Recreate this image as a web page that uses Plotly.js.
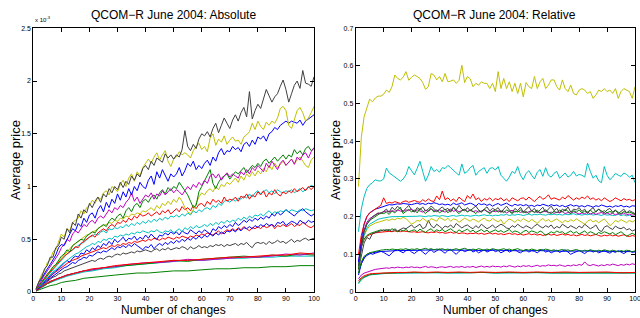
<!DOCTYPE html>
<html><head><meta charset="utf-8">
<script src="https://cdn.plot.ly/plotly-3.0.1.min.js"></script>
<style>html,body{margin:0;padding:0;background:#fff}#chart{width:640px;height:318px}</style>
</head><body><div id="chart"></div><script>
// x = number of changes (1..100) and a sparse grid for the smooth series
var xFull = [];
for (var i = 1; i <= 100; i++) xFull.push(i);
var xSparse = [1,2,3,4,5,6,8,10,12,15,18,21,25,29,33,37,41,45,50,55,60,65,70,75,80,85,90,95,100];

// ---- Left panel: absolute average price (units of 1e-3) ----
var absBlack1 = [0.03,0.1,0.14,0.22,0.25,0.33,0.33,0.42,0.44,0.52, 0.5,0.6,0.56,0.66,0.63,0.74,0.7,0.78,0.75,0.84, 0.8,0.86,0.9,0.85,0.93,0.9,0.98,0.94,1.0,0.97, 1.04,0.99,1.05,1.02,1.1,1.06,1.12,1.09,1.17,1.2, 1.16,1.24,1.2,1.27,1.25,1.23,1.31,1.27,1.3,1.26, 1.3,1.28,1.35,1.53,1.38,1.34,1.4,1.36,1.45,1.5, 1.48,1.52,1.47,1.55,1.6,1.51,1.58,1.65,1.6,1.55, 1.63,1.68,1.62,1.7,1.75,1.66,1.9,1.64,1.72,1.78, 1.74,1.82,1.92,1.86,1.8,1.85,1.88,1.95,2.01,1.92, 1.8,1.88,1.96,2.0,1.93,2.1,1.98,1.97,1.95,2.04];
var absYellow1 = [0.03,0.11,0.17,0.2,0.28,0.3,0.38,0.4,0.48,0.55, 0.52,0.6,0.58,0.66,0.68,0.7,0.77,0.74,0.8,0.82, 0.87,0.84,0.9,0.88,0.94,0.96,0.92,1.0,0.98,0.95, 1.02,1.06,1.0,1.08,1.12,1.05,1.14,1.1,1.18,1.22, 1.26,1.22,1.28,1.32,1.25,1.3,1.34,1.24,1.19,1.26, 1.28,1.33,1.3,1.32,1.3,1.27,1.34,1.38,1.41,1.35, 1.38,1.33,1.46,1.5,1.39,1.45,1.42,1.48,1.4,1.44, 1.47,1.43,1.44,1.4,1.47,1.49,1.52,1.6,1.54,1.62, 1.57,1.54,1.61,1.58,1.62,1.6,1.65,1.74,1.76,1.72, 1.58,1.55,1.63,1.72,1.75,1.7,1.62,1.65,1.7,1.76];
var absBlue1 = [0.03,0.09,0.13,0.18,0.22,0.26,0.31,0.35,0.42,0.45, 0.44,0.5,0.55,0.6,0.58,0.65,0.62,0.7,0.66,0.73, 0.75,0.7,0.78,0.82,0.76,0.85,0.8,0.88,0.84,0.93, 0.87,0.95,0.9,0.98,0.92,1.0,0.96,1.04,1.0,0.98, 1.06,1.1,1.02,1.14,1.08,1.16,1.1,1.05,1.12,1.09, 1.12,1.18,1.1,1.15,1.22,1.19,1.24,1.16,1.2,1.17, 1.22,1.25,1.2,1.28,1.24,1.32,1.36,1.3,1.34,1.33, 1.38,1.35,1.37,1.33,1.4,1.42,1.38,1.44,1.4,1.47, 1.45,1.48,1.43,1.5,1.52,1.56,1.54,1.58,1.6,1.62, 1.6,1.62,1.61,1.6,1.63,1.58,1.62,1.64,1.66,1.68];
var absGreen1 = [0.02,0.06,0.1,0.13,0.17,0.2,0.24,0.26,0.3,0.34, 0.36,0.4,0.38,0.44,0.46,0.48,0.5,0.49,0.53,0.55, 0.57,0.56,0.6,0.62,0.64,0.62,0.67,0.7,0.68,0.72, 0.74,0.7,0.77,0.8,0.76,0.82,0.84,0.8,0.86,0.88, 0.85,0.9,0.92,0.88,0.94,0.97,0.93,0.99,0.96,1.0, 0.98,1.04,1.0,0.95,0.92,0.86,0.8,0.82,0.95,1.0, 1.05,1.1,1.16,1.03,0.98,1.04,1.08,1.1,1.12,1.07, 1.1,1.14,1.12,1.15,1.18,1.13,1.17,1.2,1.18,1.22, 1.19,1.24,1.26,1.22,1.25,1.28,1.24,1.27,1.3,1.26, 1.3,1.28,1.35,1.31,1.34,1.3,1.36,1.38,1.34,1.36];
var absMagenta1 = [0.02,0.07,0.12,0.16,0.2,0.24,0.28,0.32,0.36,0.42, 0.45,0.5,0.48,0.55,0.58,0.56,0.6,0.64,0.62,0.66, 0.68,0.65,0.7,0.72,0.7,0.74,0.78,0.75,0.8,0.78, 0.82,0.8,0.85,0.88,0.94,0.86,0.9,0.84,0.88,0.92, 0.9,0.94,0.88,0.93,0.91,0.96,0.92,0.95,0.98,0.94, 0.97,0.95,0.92,0.96,1.0,0.97,1.02,0.99,1.04,1.01, 1.06,1.03,1.1,1.12,1.08,1.12,1.06,1.1,1.13,1.09, 1.12,1.1,1.08,1.14,1.11,1.16,1.12,1.18,1.15,1.2, 1.17,1.14,1.22,1.18,1.24,1.2,1.16,1.22,1.25,1.2, 1.23,1.26,1.21,1.28,1.25,1.3,1.32,1.27,1.33,1.37];
var absYellow2 = [0.02,0.06,0.1,0.14,0.17,0.2,0.23,0.27,0.3,0.33, 0.36,0.39,0.42,0.44,0.46,0.48,0.5,0.52,0.54,0.55, 0.57,0.58,0.6,0.62,0.63,0.64,0.66,0.65,0.68,0.67, 0.7,0.69,0.72,0.71,0.74,0.73,0.75,0.74,0.77,0.76, 0.78,0.8,0.77,0.82,0.79,0.84,0.82,0.86,0.83,0.88, 0.85,0.9,0.86,0.8,0.76,0.74,0.78,0.84,0.9,0.94, 0.92,0.96,0.98,0.95,1.0,0.97,1.02,1.0,1.04,1.02, 1.05,1.08,1.04,1.1,1.06,1.12,1.09,1.14,1.1,1.15, 1.12,1.17,1.14,1.2,1.16,1.22,1.18,1.21,1.24,1.2, 1.23,1.26,1.22,1.25,1.28,1.24,1.2,1.18,1.25,1.28];
var absRed1 = [0.02,0.06,0.09,0.12,0.16,0.19,0.22,0.25,0.28,0.32, 0.34,0.36,0.38,0.4,0.43,0.42,0.46,0.48,0.5,0.52, 0.54,0.52,0.56,0.58,0.6,0.58,0.62,0.64,0.62,0.66, 0.65,0.68,0.66,0.7,0.68,0.72,0.7,0.74,0.72,0.73, 0.75,0.72,0.74,0.76,0.73,0.77,0.75,0.78,0.74,0.77, 0.79,0.76,0.81,0.78,0.8,0.77,0.82,0.79,0.83,0.84, 0.81,0.86,0.83,0.88,0.85,0.87,0.84,0.9,0.86,0.88, 0.87,0.9,0.86,0.91,0.89,0.93,0.88,0.92,0.9,0.95, 0.92,0.96,0.9,0.94,0.92,0.97,0.93,0.91,0.95,0.93, 0.96,0.94,0.98,0.95,0.97,0.99,0.96,1.0,0.97,1.0];
var absCyan1 = [0.02,0.06,0.09,0.12,0.15,0.18,0.22,0.25,0.28,0.31, 0.33,0.36,0.38,0.4,0.42,0.44,0.46,0.47,0.5,0.52, 0.53,0.55,0.54,0.57,0.58,0.56,0.6,0.59,0.61,0.6, 0.62,0.61,0.64,0.62,0.65,0.63,0.66,0.64,0.67,0.65, 0.68,0.66,0.69,0.67,0.7,0.68,0.71,0.69,0.72,0.71, 0.73,0.71,0.74,0.72,0.75,0.73,0.77,0.75,0.78,0.76, 0.79,0.8,0.78,0.82,0.8,0.84,0.82,0.86,0.87,0.85, 0.88,0.86,0.89,0.88,0.91,0.89,0.93,0.9,0.94,0.96, 0.93,0.95,0.97,0.94,0.96,0.93,0.97,0.95,0.94,0.96, 0.95,0.97,0.94,0.96,0.98,0.95,0.97,0.99,1.01,1.0];
var absCyan2 = [0.02,0.05,0.08,0.11,0.14,0.16,0.19,0.21,0.24,0.26, 0.28,0.3,0.32,0.34,0.36,0.37,0.39,0.41,0.43,0.44, 0.46,0.45,0.48,0.47,0.5,0.49,0.51,0.5,0.53,0.52, 0.54,0.53,0.55,0.54,0.56,0.55,0.57,0.56,0.58,0.57, 0.56,0.58,0.57,0.59,0.57,0.56,0.58,0.57,0.59,0.56, 0.58,0.6,0.57,0.61,0.59,0.62,0.6,0.63,0.61,0.62, 0.64,0.62,0.65,0.63,0.66,0.64,0.67,0.65,0.68,0.66, 0.68,0.67,0.7,0.68,0.71,0.69,0.72,0.7,0.73,0.72, 0.74,0.72,0.75,0.77,0.74,0.76,0.75,0.77,0.76,0.78, 0.76,0.78,0.77,0.76,0.78,0.77,0.79,0.78,0.77,0.78];
var absBlue2 = [0.02,0.05,0.08,0.1,0.13,0.15,0.18,0.2,0.22,0.25, 0.27,0.3,0.28,0.32,0.34,0.33,0.37,0.36,0.4,0.38, 0.42,0.4,0.44,0.42,0.46,0.44,0.48,0.45,0.5,0.47, 0.49,0.52,0.48,0.51,0.5,0.53,0.49,0.52,0.5,0.54, 0.51,0.55,0.52,0.5,0.54,0.53,0.56,0.54,0.57,0.55, 0.57,0.54,0.58,0.56,0.55,0.59,0.57,0.55,0.58,0.56, 0.59,0.57,0.55,0.6,0.58,0.62,0.6,0.63,0.61,0.64, 0.62,0.66,0.63,0.65,0.68,0.66,0.69,0.67,0.7,0.68, 0.71,0.69,0.72,0.7,0.74,0.72,0.76,0.73,0.75,0.78, 0.76,0.74,0.72,0.75,0.77,0.79,0.76,0.74,0.72,0.74];
var absBlue3 = [0.02,0.04,0.07,0.09,0.11,0.13,0.15,0.17,0.19,0.21, 0.23,0.24,0.26,0.28,0.27,0.3,0.31,0.33,0.32,0.35, 0.34,0.36,0.38,0.37,0.39,0.38,0.4,0.42,0.4,0.43, 0.42,0.44,0.42,0.45,0.43,0.46,0.44,0.42,0.4,0.43, 0.42,0.45,0.41,0.44,0.46,0.44,0.47,0.45,0.48,0.46, 0.49,0.47,0.5,0.48,0.51,0.49,0.52,0.5,0.53,0.51, 0.54,0.52,0.55,0.53,0.56,0.54,0.57,0.55,0.58,0.57, 0.59,0.57,0.6,0.58,0.61,0.6,0.62,0.6,0.63,0.61, 0.64,0.62,0.65,0.63,0.64,0.62,0.66,0.65,0.67,0.63, 0.65,0.67,0.66,0.64,0.68,0.66,0.65,0.68,0.66,0.67];
var absRed2 = [0.02,0.05,0.07,0.1,0.12,0.14,0.17,0.19,0.21,0.23, 0.25,0.27,0.29,0.3,0.31,0.32,0.34,0.35,0.36,0.37, 0.38,0.39,0.4,0.41,0.42,0.41,0.43,0.44,0.43,0.45, 0.44,0.46,0.45,0.47,0.46,0.48,0.47,0.48,0.49,0.48, 0.5,0.49,0.51,0.5,0.49,0.51,0.5,0.52,0.51,0.5, 0.52,0.51,0.53,0.52,0.51,0.53,0.52,0.54,0.53,0.55, 0.54,0.56,0.55,0.54,0.56,0.58,0.55,0.57,0.59,0.58, 0.6,0.58,0.61,0.59,0.62,0.6,0.58,0.61,0.6,0.62, 0.6,0.63,0.61,0.62,0.64,0.6,0.63,0.62,0.64,0.62, 0.63,0.65,0.62,0.64,0.63,0.66,0.64,0.62,0.61,0.63];
var absBlack2 = [0.01,0.04,0.06,0.08,0.1,0.12,0.14,0.15,0.17,0.18, 0.2,0.21,0.22,0.23,0.24,0.25,0.26,0.27,0.28,0.29, 0.3,0.29,0.31,0.32,0.31,0.33,0.34,0.33,0.35,0.36, 0.35,0.37,0.36,0.37,0.38,0.37,0.39,0.38,0.39,0.4, 0.39,0.38,0.4,0.41,0.39,0.41,0.4,0.42,0.4,0.41, 0.42,0.41,0.43,0.42,0.4,0.43,0.41,0.42,0.44,0.42, 0.43,0.42,0.44,0.43,0.45,0.44,0.45,0.43,0.45,0.44, 0.45,0.46,0.44,0.46,0.45,0.47,0.44,0.42,0.46,0.47, 0.46,0.47,0.45,0.48,0.46,0.47,0.49,0.47,0.48,0.46, 0.48,0.5,0.47,0.49,0.48,0.5,0.51,0.49,0.5,0.51];
var absRed3 = [0.01,0.03,0.05,0.07,0.08,0.1,0.12,0.14,0.16,0.18, 0.2,0.22,0.23,0.25,0.26,0.27,0.28,0.29,0.3,0.3, 0.31,0.32,0.33,0.33,0.34,0.35,0.35,0.37,0.36];
var absMagenta3 = [0.01,0.03,0.05,0.07,0.09,0.1,0.12,0.14,0.16,0.18, 0.2,0.21,0.23,0.24,0.26,0.27,0.28,0.28,0.29,0.31, 0.3,0.31,0.32,0.33,0.33,0.34,0.36,0.35,0.37];
var absGreen3 = [0.01,0.03,0.05,0.06,0.08,0.09,0.12,0.14,0.16,0.18, 0.2,0.21,0.23,0.24,0.25,0.26,0.27,0.28,0.3,0.29, 0.31,0.32,0.33,0.34,0.33,0.35,0.34,0.36,0.35];
var absCyan3 = [0.01,0.03,0.04,0.06,0.08,0.09,0.11,0.13,0.15,0.17, 0.19,0.2,0.22,0.23,0.25,0.26,0.27,0.28,0.29,0.3, 0.3,0.31,0.32,0.32,0.33,0.33,0.34,0.34,0.34];
var absGreen4 = [0.01,0.02,0.03,0.04,0.05,0.06,0.07,0.09,0.1,0.11, 0.13,0.14,0.15,0.16,0.17,0.18,0.18,0.19,0.2,0.2, 0.21,0.22,0.22,0.23,0.23,0.24,0.24,0.25,0.25];

// ---- Right panel: relative average price ----
var relYellow1 = [.28,.41,.465,.49,.512,.505,.515,.52,.52,.525, .536,.53,.545,.576,.567,.563,.57,.585,.562,.57, .576,.572,.567,.556,.538,.545,.58,.576,.563,.572, .558,.58,.558,.56,.563,.554,.562,.602,.556,.572, .566,.545,.554,.549,.558,.554,.554,.54,.554,.532, .585,.54,.567,.54,.558,.532,.554,.527,.554,.518, .556,.545,.54,.572,.54,.558,.567,.54,.549,.563, .563,.545,.536,.563,.54,.532,.549,.527,.523,.536, .54,.536,.527,.532,.514,.523,.536,.532,.54,.532, .536,.527,.54,.514,.532,.54,.536,.532,.514,.545];
var relCyan1 = [.16,.22,.253,.275,.285,.29,.298,.295,.295,.3, .329,.316,.311,.305,.298,.294,.3,.311,.333,.32, .311,.328,.347,.32,.294,.31,.333,.32,.325,.318, .33,.328,.336,.33,.322,.316,.31,.34,.315,.32, .33,.336,.31,.32,.325,.33,.315,.328,.33,.324, .333,.31,.302,.294,.305,.32,.315,.333,.31,.298, .315,.322,.31,.3,.318,.325,.307,.33,.31,.305, .315,.32,.302,.31,.316,.305,.31,.32,.308,.312, .31,.305,.342,.32,.302,.31,.295,.29,.333,.31, .298,.305,.315,.31,.307,.316,.312,.305,.31,.29];
var relRed1 = [.1,.15,.18,.2,.21,.215,.22,.225,.23,.25, .235,.238,.236,.24,.237,.235,.24,.242,.238,.24, .243,.24,.238,.245,.24,.247,.242,.24,.255,.245, .268,.245,.25,.242,.247,.24,.252,.245,.24,.256, .248,.26,.245,.25,.24,.248,.244,.25,.242,.248, .245,.25,.242,.247,.24,.25,.245,.242,.248,.25, .244,.252,.246,.24,.248,.254,.246,.25,.258,.246, .25,.248,.244,.252,.247,.256,.25,.244,.25,.246, .252,.248,.255,.246,.25,.244,.248,.242,.25,.246, .24,.244,.25,.246,.242,.248,.244,.246,.242,.245];
var relBlue1 = [.08,.14,.18,.2,.21,.215,.22,.222,.225,.228, .23,.232,.231,.233,.234,.233,.235,.234,.233,.232, .234,.236,.233,.235,.232,.236,.234,.237,.235,.232, .234,.231,.233,.23,.236,.232,.234,.237,.231,.234, .236,.233,.228,.235,.232,.234,.23,.233,.228,.232, .235,.23,.233,.236,.231,.228,.233,.23,.232,.229, .232,.228,.23,.227,.231,.229,.233,.23,.228,.232, .229,.231,.227,.23,.226,.229,.232,.228,.23,.227, .229,.226,.23,.228,.225,.229,.227,.231,.228,.226, .228,.225,.229,.227,.23,.226,.228,.225,.229,.228];
var relBlack1 = [.07,.12,.16,.18,.19,.2,.205,.21,.208,.215, .22,.212,.225,.218,.228,.22,.215,.222,.23,.218, .212,.224,.218,.226,.215,.22,.228,.222,.214,.22, .226,.218,.222,.212,.225,.218,.23,.22,.215,.224, .216,.222,.228,.218,.212,.22,.226,.215,.222,.218, .224,.212,.22,.228,.218,.21,.222,.216,.225,.212, .22,.226,.215,.222,.21,.218,.225,.212,.22,.228, .216,.222,.21,.22,.215,.226,.212,.22,.218,.224, .214,.22,.208,.218,.224,.212,.22,.215,.21,.218, .222,.212,.218,.208,.215,.22,.21,.216,.212,.208];
var relGreen1 = [.06,.12,.16,.18,.19,.195,.2,.205,.21,.208, .212,.206,.215,.21,.218,.225,.208,.214,.22,.212, .218,.21,.222,.215,.208,.216,.222,.212,.218,.21, .215,.22,.21,.218,.225,.214,.208,.216,.22,.212, .218,.214,.208,.216,.212,.22,.215,.208,.214,.218, .212,.216,.21,.218,.214,.208,.215,.212,.218,.21, .214,.208,.216,.212,.218,.21,.214,.218,.212,.208, .215,.21,.218,.212,.22,.214,.208,.216,.212,.218, .21,.215,.212,.218,.21,.214,.22,.212,.216,.21, .214,.21,.216,.212,.208,.214,.21,.212,.208,.206];
var relMagenta1 = [.06,.13,.165,.185,.195,.2,.205,.208,.21,.212, .215,.212,.216,.214,.218,.215,.213,.218,.216,.22, .214,.218,.215,.212,.217,.214,.22,.216,.213,.218, .215,.212,.216,.22,.214,.217,.213,.216,.219,.214, .217,.213,.216,.212,.215,.218,.214,.211,.215,.213, .216,.212,.215,.21,.214,.217,.212,.215,.211,.214, .21,.213,.216,.211,.214,.21,.213,.215,.21,.212, .209,.212,.21,.214,.208,.211,.209,.213,.21,.207, .21,.208,.212,.207,.21,.206,.209,.211,.207,.21, .206,.209,.205,.208,.206,.21,.205,.207,.204,.205];
var relCyan2 = [.07,.12,.15,.17,.18,.185,.19,.193,.195,.197, .198,.199,.2,.2,.199,.2,.201,.2,.2,.201, .2,.201,.202,.201,.2,.202,.201,.203,.202,.201, .203,.202,.2,.202,.203,.201,.202,.204,.202,.203, .201,.203,.204,.202,.203,.205,.203,.204,.202,.204, .203,.205,.204,.206,.203,.205,.204,.206,.205,.203, .205,.207,.204,.206,.205,.207,.205,.204,.206,.205, .207,.205,.206,.204,.207,.205,.206,.208,.205,.206, .204,.206,.205,.207,.204,.206,.205,.203,.206,.204, .205,.203,.204,.206,.203,.205,.202,.204,.201,.2];
var relYellow2 = [.06,.12,.15,.165,.175,.18,.183,.185,.188,.19, .192,.19,.194,.192,.196,.194,.198,.195,.188,.18, .184,.19,.188,.196,.19,.185,.195,.192,.188,.198, .193,.19,.196,.188,.194,.192,.185,.19,.196,.192, .188,.194,.19,.186,.192,.196,.19,.188,.195,.19, .186,.192,.18,.188,.194,.19,.185,.192,.188,.195, .19,.186,.193,.188,.182,.19,.195,.188,.192,.186, .19,.194,.188,.184,.19,.186,.192,.188,.194,.19, .186,.18,.188,.192,.186,.19,.184,.19,.194,.186, .176,.182,.19,.186,.192,.188,.184,.19,.186,.19];
var relBlack2 = [.06,.1,.13,.145,.14,.155,.158,.16,.162,.165, .163,.166,.16,.168,.162,.165,.17,.168,.172,.178, .17,.175,.18,.168,.172,.19,.176,.17,.18,.174, .168,.175,.172,.178,.17,.182,.176,.17,.175,.178, .172,.168,.176,.17,.18,.175,.168,.172,.178,.17, .174,.18,.176,.17,.168,.176,.172,.18,.174,.17, .176,.172,.168,.175,.18,.174,.17,.176,.172,.178, .168,.174,.17,.18,.175,.17,.176,.172,.168,.175, .17,.18,.174,.168,.172,.178,.165,.16,.172,.176, .17,.166,.175,.17,.168,.172,.165,.168,.162,.165];
var relRed2 = [.08,.12,.14,.148,.152,.155,.157,.158,.159,.16, .16,.161,.16,.162,.161,.16,.162,.161,.16,.159, .16,.158,.159,.16,.158,.157,.159,.158,.16,.157, .158,.156,.157,.159,.156,.158,.155,.157,.156,.154, .156,.155,.157,.154,.156,.153,.155,.157,.154,.156, .153,.155,.152,.154,.156,.153,.155,.152,.154,.151, .153,.155,.152,.154,.151,.153,.15,.152,.154,.151, .153,.15,.152,.154,.151,.153,.15,.152,.149,.151, .153,.15,.152,.149,.151,.153,.15,.148,.151,.149, .152,.149,.151,.148,.15,.152,.149,.147,.15,.148];
var relGreen2 = [.07,.12,.14,.15,.155,.158,.16,.163,.165,.162, .166,.162,.168,.164,.16,.165,.162,.166,.16,.163, .165,.16,.167,.162,.158,.164,.168,.16,.165,.162, .166,.16,.164,.168,.162,.158,.165,.16,.163,.167, .16,.164,.158,.162,.166,.16,.164,.158,.162,.165, .16,.163,.158,.162,.166,.158,.162,.16,.155,.16, .164,.158,.162,.16,.156,.162,.158,.15,.155,.16, .156,.162,.158,.16,.154,.158,.162,.156,.16,.154, .158,.162,.155,.16,.157,.152,.158,.155,.16,.156, .154,.158,.152,.156,.16,.154,.148,.152,.156,.152];
var relGreen3 = [.05,.08,.095,.1,.104,.106,.108,.11,.111,.112, .113,.112,.114,.113,.112,.114,.113,.115,.112,.114, .113,.115,.112,.114,.116,.113,.115,.112,.114,.113, .115,.112,.114,.111,.113,.115,.112,.114,.116,.113, .111,.114,.112,.115,.113,.111,.114,.112,.115,.113, .111,.113,.115,.112,.114,.111,.113,.115,.112,.11, .113,.111,.114,.112,.11,.113,.111,.114,.112,.11, .112,.109,.111,.113,.11,.112,.109,.111,.113,.11, .108,.111,.109,.112,.11,.108,.111,.109,.112,.11, .108,.111,.109,.107,.11,.108,.111,.109,.107,.109];
var relBlue2 = [.045,.075,.09,.1,.104,.1,.103,.106,.108,.105, .1,.096,.104,.11,.112,.108,.104,.11,.113,.106, .102,.108,.112,.106,.1,.108,.112,.105,.11,.114, .108,.103,.11,.113,.106,.1,.108,.112,.107,.11, .113,.106,.11,.104,.109,.112,.106,.11,.113,.107, .11,.104,.108,.112,.106,.11,.113,.107,.104,.109, .112,.106,.11,.108,.104,.11,.112,.106,.109,.104, .108,.111,.105,.109,.112,.106,.1,.104,.108,.11, .106,.102,.108,.111,.106,.109,.104,.108,.11,.106, .103,.108,.105,.11,.106,.102,.107,.11,.105,.107];
var relMagenta2 = [.035,.045,.05,.053,.056,.058,.06,.061,.062,.063, .064,.063,.065,.064,.066,.065,.064,.066,.065,.067, .065,.066,.064,.066,.068,.065,.067,.066,.064,.066, .067,.065,.066,.068,.065,.067,.066,.068,.065,.067, .066,.068,.065,.067,.069,.066,.068,.066,.069,.067, .068,.066,.069,.067,.07,.068,.066,.069,.067,.07, .068,.07,.067,.069,.071,.068,.07,.069,.072,.07, .071,.069,.072,.07,.068,.071,.069,.072,.07,.073, .071,.08,.072,.07,.073,.071,.069,.072,.07,.073, .071,.074,.072,.07,.073,.071,.074,.072,.075,.073];
var relBlue3 = [.05,.075,.09,.097,.101,.104,.107,.108,.109,.11, .11,.111,.111,.112,.111,.112,.111,.11,.111,.11, .109,.11,.109,.108,.109,.108,.107,.108,.107];
var relRed3 = [.03,.038,.043,.046,.048,.049,.05,.051,.051,.052, .052,.053,.052,.053,.052,.053,.052,.053,.052,.053, .052,.053,.052,.053,.052,.052,.053,.051,.052];
var relCyan3 = [.022,.032,.038,.042,.045,.046,.048,.049,.05,.05, .051,.05,.051,.05,.051,.05,.051,.052,.05,.051, .05,.051,.05,.05,.051,.05,.049,.05,.05];
var relGreen4 = [.025,.035,.04,.044,.046,.047,.049,.05,.05,.051, .051,.052,.051,.052,.051,.052,.051,.052,.051,.052, .051,.052,.051,.051,.052,.051,.05,.051,.051];

var yTicksAbs = [0,0.5,1,1.5,2,2.5];
var yTicksRel = [0,0.1,0.2,0.3,0.4,0.5,0.6,0.7];
var xTicks = [0,10,20,30,40,50,60,70,80,90,100];

var C = {b:'#0000ff', g:'#008000', r:'#ff0000', c:'#00bfbf', m:'#bf00bf', y:'#bfbf00', k:'#404040'};
var traces = [];
function add(x, y, col, panel) {
  traces.push({x:x, y:y, type:'scatter', mode:'lines', line:{color:C[col], width:1},
    xaxis: panel === 1 ? 'x' : 'x2', yaxis: panel === 1 ? 'y' : 'y2', hoverinfo:'skip'});
}
add(xSparse, absGreen4, 'g', 1);
add(xSparse, absCyan3, 'c', 1);
add(xSparse, absGreen3, 'g', 1);
add(xSparse, absMagenta3, 'm', 1);
add(xSparse, absRed3, 'r', 1);
add(xFull, absBlack2, 'k', 1);
add(xFull, absRed2, 'r', 1);
add(xFull, absBlue3, 'b', 1);
add(xFull, absBlue2, 'b', 1);
add(xFull, absCyan2, 'c', 1);
add(xFull, absCyan1, 'c', 1);
add(xFull, absRed1, 'r', 1);
add(xFull, absYellow2, 'y', 1);
add(xFull, absGreen1, 'g', 1);
add(xFull, absMagenta1, 'm', 1);
add(xFull, absBlue1, 'b', 1);
add(xFull, absYellow1, 'y', 1);
add(xFull, absBlack1, 'k', 1);

add(xSparse, relCyan3, 'c', 2);
add(xSparse, relGreen4, 'g', 2);
add(xSparse, relRed3, 'r', 2);
add(xFull, relMagenta2, 'm', 2);
add(xSparse, relBlue3, 'b', 2);
add(xFull, relBlue2, 'b', 2);
add(xFull, relGreen3, 'g', 2);
add(xFull, relRed2, 'r', 2);
add(xFull, relGreen2, 'g', 2);
add(xFull, relBlack2, 'k', 2);
add(xFull, relYellow2, 'y', 2);
add(xFull, relCyan2, 'c', 2);
add(xFull, relMagenta1, 'm', 2);
add(xFull, relGreen1, 'g', 2);
add(xFull, relBlack1, 'k', 2);
add(xFull, relBlue1, 'b', 2);
add(xFull, relRed1, 'r', 2);
add(xFull, relCyan1, 'c', 2);
add(xFull, relYellow1, 'y', 2);

var FONT = 'Liberation Sans, Arial, Helvetica, sans-serif';
function axis(extra) {
  var a = {showline:true, linecolor:'#000', linewidth:1, mirror:'ticks', ticks:'inside', ticklen:4,
    tickcolor:'#000', tickwidth:1, showgrid:false, zeroline:false, ticklabeloverflow:'allow',
    tickfont:{family:FONT, size:7, color:'#000'}};
  for (var k in extra) a[k] = extra[k];
  return a;
}
var yDom = [1 - 292/318, 1 - 28.3/318];
var layout = {
  width:640, height:318, margin:{l:0, r:0, t:0, b:0}, showlegend:false,
  paper_bgcolor:'#fff', plot_bgcolor:'#fff', font:{family:FONT, color:'#000'},
  xaxis: axis({domain:[33.3/640, 314/640], range:[0,100], tickvals:xTicks, anchor:'y'}),
  yaxis: axis({domain:yDom, range:[0,2.5], tickvals:yTicksAbs, anchor:'x'}),
  xaxis2: axis({domain:[355.7/640, 635/640], range:[0,100], tickvals:xTicks, anchor:'y2'}),
  yaxis2: axis({domain:yDom, range:[0,0.7], tickvals:yTicksRel, anchor:'x2'}),
  annotations: [
    {text:'QCOM\u2212R June 2004: Absolute', x:173.5/640, y:1-15/318, xref:'paper', yref:'paper', showarrow:false, xanchor:'center', yanchor:'middle', font:{size:12}},
    {text:'QCOM\u2212R June 2004: Relative', x:494/640, y:1-15/318, xref:'paper', yref:'paper', showarrow:false, xanchor:'center', yanchor:'middle', font:{size:12}},
    {text:'Number of changes', x:173.5/640, y:1-310/318, xref:'paper', yref:'paper', showarrow:false, xanchor:'center', yanchor:'middle', font:{size:12}},
    {text:'Number of changes', x:495/640, y:1-310/318, xref:'paper', yref:'paper', showarrow:false, xanchor:'center', yanchor:'middle', font:{size:12}},
    {text:'Average price', x:15/640, y:1-160/318, xref:'paper', yref:'paper', showarrow:false, textangle:-90, xanchor:'center', yanchor:'middle', font:{size:13}},
    {text:'Average price', x:335/640, y:1-160/318, xref:'paper', yref:'paper', showarrow:false, textangle:-90, xanchor:'center', yanchor:'middle', font:{size:13}},
    {text:'x 10<sup>-3</sup>', x:33/640, y:1-19/318, xref:'paper', yref:'paper', showarrow:false, xanchor:'left', yanchor:'middle', font:{size:6}}
  ]
};
Plotly.newPlot('chart', traces, layout, {staticPlot:true, displayModeBar:false});
</script></body></html>
